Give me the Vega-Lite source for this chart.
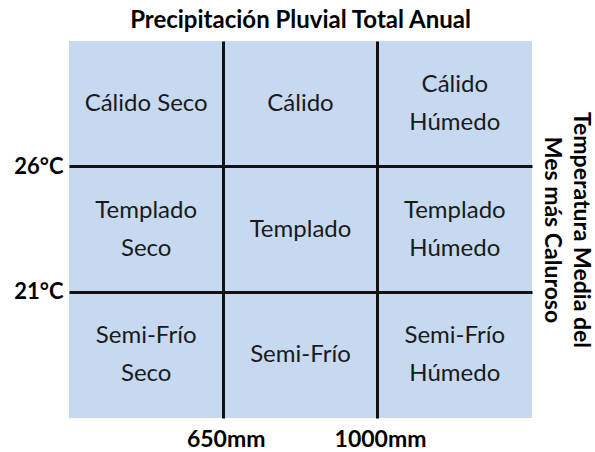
{
  "$schema": "https://vega.github.io/schema/vega-lite/v6.json",
  "width": 463,
  "height": 377,
  "autosize": {"type": "none"},
  "padding": {"left": 69, "top": 41, "right": 63, "bottom": 34},
  "background": "white",
  "title": {
    "text": "Precipitación Pluvial Total Anual",
    "font": "Lato",
    "fontSize": 24,
    "fontWeight": "bold",
    "color": "#000000",
    "anchor": "middle",
    "offset": 8
  },
  "config": {
    "view": {"stroke": null},
    "axis": {"labelFont": "Lato", "titleFont": "Lato"}
  },
  "data": {
    "values": [
      {"precipitacion": "Seco", "temperatura": "Cálido", "clima": "Cálido Seco"},
      {"precipitacion": "Intermedio", "temperatura": "Cálido", "clima": "Cálido"},
      {"precipitacion": "Húmedo", "temperatura": "Cálido", "clima": "Cálido\nHúmedo"},
      {"precipitacion": "Seco", "temperatura": "Templado", "clima": "Templado\nSeco"},
      {"precipitacion": "Intermedio", "temperatura": "Templado", "clima": "Templado"},
      {"precipitacion": "Húmedo", "temperatura": "Templado", "clima": "Templado\nHúmedo"},
      {"precipitacion": "Seco", "temperatura": "Semi-Frío", "clima": "Semi-Frío\nSeco"},
      {"precipitacion": "Intermedio", "temperatura": "Semi-Frío", "clima": "Semi-Frío"},
      {"precipitacion": "Húmedo", "temperatura": "Semi-Frío", "clima": "Semi-Frío\nHúmedo"}
    ]
  },
  "resolve": {"axis": {"y": "independent"}},
  "layer": [
    {
      "mark": {"type": "rect", "fill": "#c6d9f0", "strokeWidth": 0},
      "encoding": {
        "x": {
          "field": "precipitacion",
          "type": "nominal",
          "sort": ["Seco", "Intermedio", "Húmedo"],
          "scale": {"paddingInner": 0, "paddingOuter": 0},
          "axis": {
            "orient": "bottom",
            "title": null,
            "values": ["Seco", "Intermedio"],
            "bandPosition": 1,
            "labelExpr": "datum.value == 'Seco' ? '650mm' : '1000mm'",
            "labelFontSize": 23,
            "labelFontWeight": "bold",
            "labelColor": "#000000",
            "labelAngle": 0,
            "labelPadding": 10,
            "labelOffset": 80,
            "ticks": false,
            "domain": false,
            "grid": true,
            "gridColor": "#111111",
            "gridWidth": 3,
            "gridOpacity": 1,
            "zindex": 1
          }
        },
        "y": {
          "field": "temperatura",
          "type": "nominal",
          "sort": ["Cálido", "Templado", "Semi-Frío"],
          "scale": {"paddingInner": 0, "paddingOuter": 0},
          "axis": {
            "orient": "left",
            "title": null,
            "values": ["Templado", "Semi-Frío"],
            "bandPosition": 0,
            "labelExpr": "datum.value == 'Templado' ? '26°C' : '21°C'",
            "labelFontSize": 22,
            "labelFontWeight": "bold",
            "labelColor": "#000000",
            "labelPadding": 6,
            "labelOffset": -63,
            "ticks": false,
            "domain": false,
            "grid": true,
            "gridColor": "#111111",
            "gridWidth": 3,
            "gridOpacity": 1,
            "zindex": 1
          }
        }
      }
    },
    {
      "transform": [{"filter": "indexof(datum.clima, '\\n') < 0"}],
      "mark": {
        "type": "text",
        "font": "Lato",
        "fontSize": 24,
        "color": "#1a1a1a",
        "align": "center",
        "baseline": "middle"
      },
      "encoding": {
        "x": {"field": "precipitacion", "type": "nominal", "sort": ["Seco", "Intermedio", "Húmedo"]},
        "y": {
          "field": "temperatura",
          "type": "nominal",
          "sort": ["Cálido", "Templado", "Semi-Frío"],
          "axis": {
            "orient": "right",
            "title": ["Temperatura Media del", "Mes más Caluroso"],
            "titleAngle": 90,
            "titleFontSize": 23,
            "titleFontWeight": "bold",
            "titleColor": "#000000",
            "titleLineHeight": 29,
            "titlePadding": 7,
            "labels": false,
            "ticks": false,
            "domain": false,
            "grid": false
          }
        },
        "text": {"field": "clima"}
      }
    },
    {
      "transform": [{"filter": "indexof(datum.clima, '\\n') >= 0"}],
      "mark": {
        "type": "text",
        "font": "Lato",
        "fontSize": 24,
        "color": "#1a1a1a",
        "lineBreak": "\n",
        "lineHeight": 38,
        "dy": -19,
        "align": "center",
        "baseline": "middle"
      },
      "encoding": {
        "x": {"field": "precipitacion", "type": "nominal", "sort": ["Seco", "Intermedio", "Húmedo"]},
        "y": {
          "field": "temperatura",
          "type": "nominal",
          "sort": ["Cálido", "Templado", "Semi-Frío"],
          "axis": null
        },
        "text": {"field": "clima"}
      }
    }
  ]
}
